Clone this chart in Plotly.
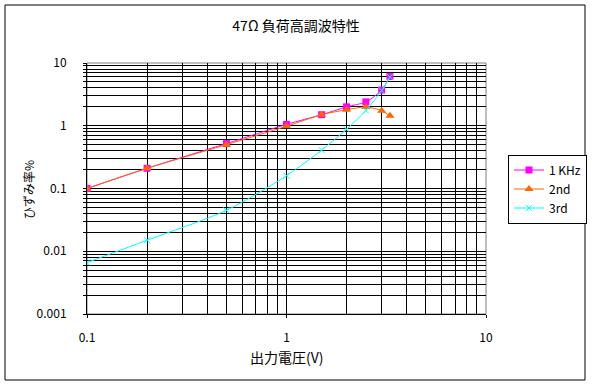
import plotly.graph_objects as go

# Data
voltage = [0.1, 0.2, 0.5, 1.0, 1.5, 2.0, 2.5, 3.0, 3.3]
thd_1khz = [0.1, 0.21, 0.52, 1.05, 1.5, 2.0, 2.4, 3.7, 6.1]
h2_vals = [0.1, 0.21, 0.5, 0.98, 1.5, 1.8, 1.99, 1.74, 1.44]
h3_vals = [0.0066, 0.015, 0.045, 0.16, 0.41, 0.88, 1.75, 3.65, 6.0]
series_names = ["1 KHz", "2nd", "3rd"]

x_major = [0.1, 1, 10]
x_major_text = ["0.1", "1", "10"]
y_major = [0.001, 0.01, 0.1, 1, 10]
y_major_text = ["0.001", "0.01", "0.1", "1", "10"]
x_minor = [m * d for d in (0.1, 1) for m in range(2, 10)]
y_minor = [m * d for d in (0.001, 0.01, 0.1, 1) for m in range(2, 10)]

title_text = "47Ω 負荷高調波特性"
x_title = "出力電圧(V)"
y_title = "ひずみ率%"

FONT = "Noto Sans CJK JP, Liberation Sans, sans-serif"

fig = go.Figure()
fig.add_trace(go.Scatter(
    x=voltage, y=thd_1khz, name=series_names[0], mode="lines+markers",
    line=dict(color="#FF00FF", width=1, shape="spline", smoothing=0.8),
    marker=dict(symbol="square", size=7, color="#FF00FF")))
fig.add_trace(go.Scatter(
    x=voltage, y=h2_vals, name=series_names[1], mode="lines+markers",
    line=dict(color="#FF6600", width=1, shape="spline", smoothing=0.8),
    marker=dict(symbol="triangle-up", size=8, color="#FF6600")))
fig.add_trace(go.Scatter(
    x=voltage, y=h3_vals, name=series_names[2], mode="lines+markers",
    line=dict(color="#00FFFF", width=1, shape="spline", smoothing=0.8),
    marker=dict(symbol="x-thin", size=6, line=dict(color="#00FFFF", width=1))))

axis_common = dict(
    type="log", showgrid=True, gridcolor="black", gridwidth=1,
    zeroline=False, showline=True, linecolor="black", linewidth=1,
    ticks="outside", tickcolor="black", ticklen=3,
    tickfont=dict(family=FONT, size=12, color="black"),
    layer="below traces", automargin=False,
)

fig.update_xaxes(
    **axis_common, range=[-1, 1], tickvals=x_major, ticktext=x_major_text,
    ticklabelstandoff=10,
    minor=dict(tickvals=x_minor, showgrid=True, gridcolor="black", gridwidth=1,
               ticks="", ticklen=0))
fig.update_yaxes(
    **axis_common, range=[-3, 1], tickvals=y_major, ticktext=y_major_text,
    ticklabelstandoff=14,
    minor=dict(tickvals=y_minor, showgrid=True, gridcolor="black", gridwidth=1,
               ticks="outside", ticklen=3, tickcolor="black"))

fig.update_layout(
    width=592, height=385,
    margin=dict(l=87, r=106, t=63, b=71, autoexpand=False),
    paper_bgcolor="white", plot_bgcolor="white",
    font=dict(family=FONT, size=12, color="black"),
    title=dict(text=title_text, x=0.5, xref="container", xanchor="center",
               y=1 - 26.5 / 385, yref="container", yanchor="middle",
               automargin=False,
               font=dict(family=FONT, size=14, color="black")),
    showlegend=True,
    legend=dict(x=(508 - 87) / 399, xanchor="left", y=(314 - 189) / 251,
                yanchor="middle", bordercolor="black", borderwidth=1,
                bgcolor="white", font=dict(family=FONT, size=12, color="black"),
                itemwidth=30, tracegroupgap=0),
    annotations=[
        dict(text=x_title, x=0.5, xref="paper", y=(314 - 357) / 251, yref="paper",
             xanchor="center", yanchor="middle", showarrow=False,
             font=dict(family=FONT, size=14, color="black")),
        dict(text=y_title, x=(28 - 87) / 399, xref="paper", y=(314 - 190) / 251,
             yref="paper", xanchor="center", yanchor="middle", textangle=-90,
             showarrow=False, font=dict(family=FONT, size=12, color="black")),
    ],
    shapes=[
        dict(type="rect", xref="paper", yref="paper", x0=0, x1=1, y0=0, y1=1,
             line=dict(color="#808080", width=1), layer="between"),
        dict(type="rect", xref="paper", yref="paper",
             x0=(5 - 87) / 399, x1=(585 - 87) / 399,
             y0=(314 - 380) / 251, y1=(314 - 5) / 251,
             line=dict(color="black", width=1), layer="above"),
    ],
)

fig.write_html("out.html",
               config={"displayModeBar": False},
               post_script="document.body.style.margin='0';")
